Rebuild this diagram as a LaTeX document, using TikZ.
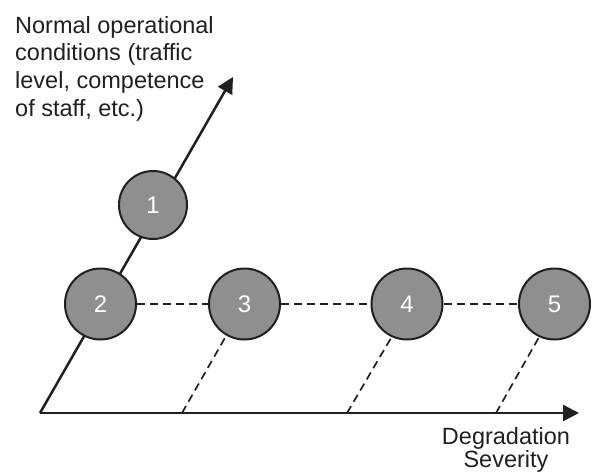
\documentclass[tikz,border=0pt]{standalone}
\usepackage{fontspec}
\setmainfont{Liberation Sans}
\usetikzlibrary{arrows.meta}
\definecolor{ink}{HTML}{231F20}
\definecolor{disc}{HTML}{8F8F8F}
\begin{document}
\begin{tikzpicture}[x=1pt,y=-1pt,
  axis/.style={draw=ink,line width=2.5pt,-{Triangle[length=16pt,width=16pt]}},
  stage/.style={circle,draw=ink,line width=2pt,fill=disc,minimum size=71pt,inner sep=0pt,
    text=white,font=\fontsize{24}{28}\selectfont},
  link/.style={draw=ink,line width=1.7pt,dash pattern=on 8pt off 5pt},
  lbl/.style={inner sep=0pt,text=ink,font=\fontsize{23.5}{27.7}\selectfont}]
\useasboundingbox (0,0) rectangle (592,475);
\coordinate (o) at (40,413);
\coordinate (xend) at (579,413);
\coordinate (yend) at (233,77);
\coordinate (b3) at (182,413);
\coordinate (b4) at (347,413);
\coordinate (b5) at (496,413);
\draw[axis] (o) -- (xend);
\draw[axis] (o) -- (yend);
\node[stage,minimum size=68pt] (c1) at (153,205) {1};
\node[stage] (c2) at (100.5,304) {2};
\node[stage] (c3) at (244.5,304) {3};
\node[stage] (c4) at (407,304) {4};
\node[stage] (c5) at (554.5,304) {5};
\draw[link] (c2) -- (c3);
\draw[link] (c3) -- (c4);
\draw[link] (c4) -- (c5);
\draw[link] (b3) -- (c3.-120);
\draw[link] (b4) -- (c4.-115);
\draw[link] (b5) -- (c5.-115);
\node[lbl,anchor=north west,align=left] (ylab) at (15,16)
  {Normal operational\\conditions (traffic\\level, competence\\of staff, etc.)};
\node[lbl,anchor=north,align=center,font=\fontsize{23.5}{23}\selectfont] (xlab) at (506,427.5)
  {Degradation\\Severity};
\end{tikzpicture}
\end{document}
